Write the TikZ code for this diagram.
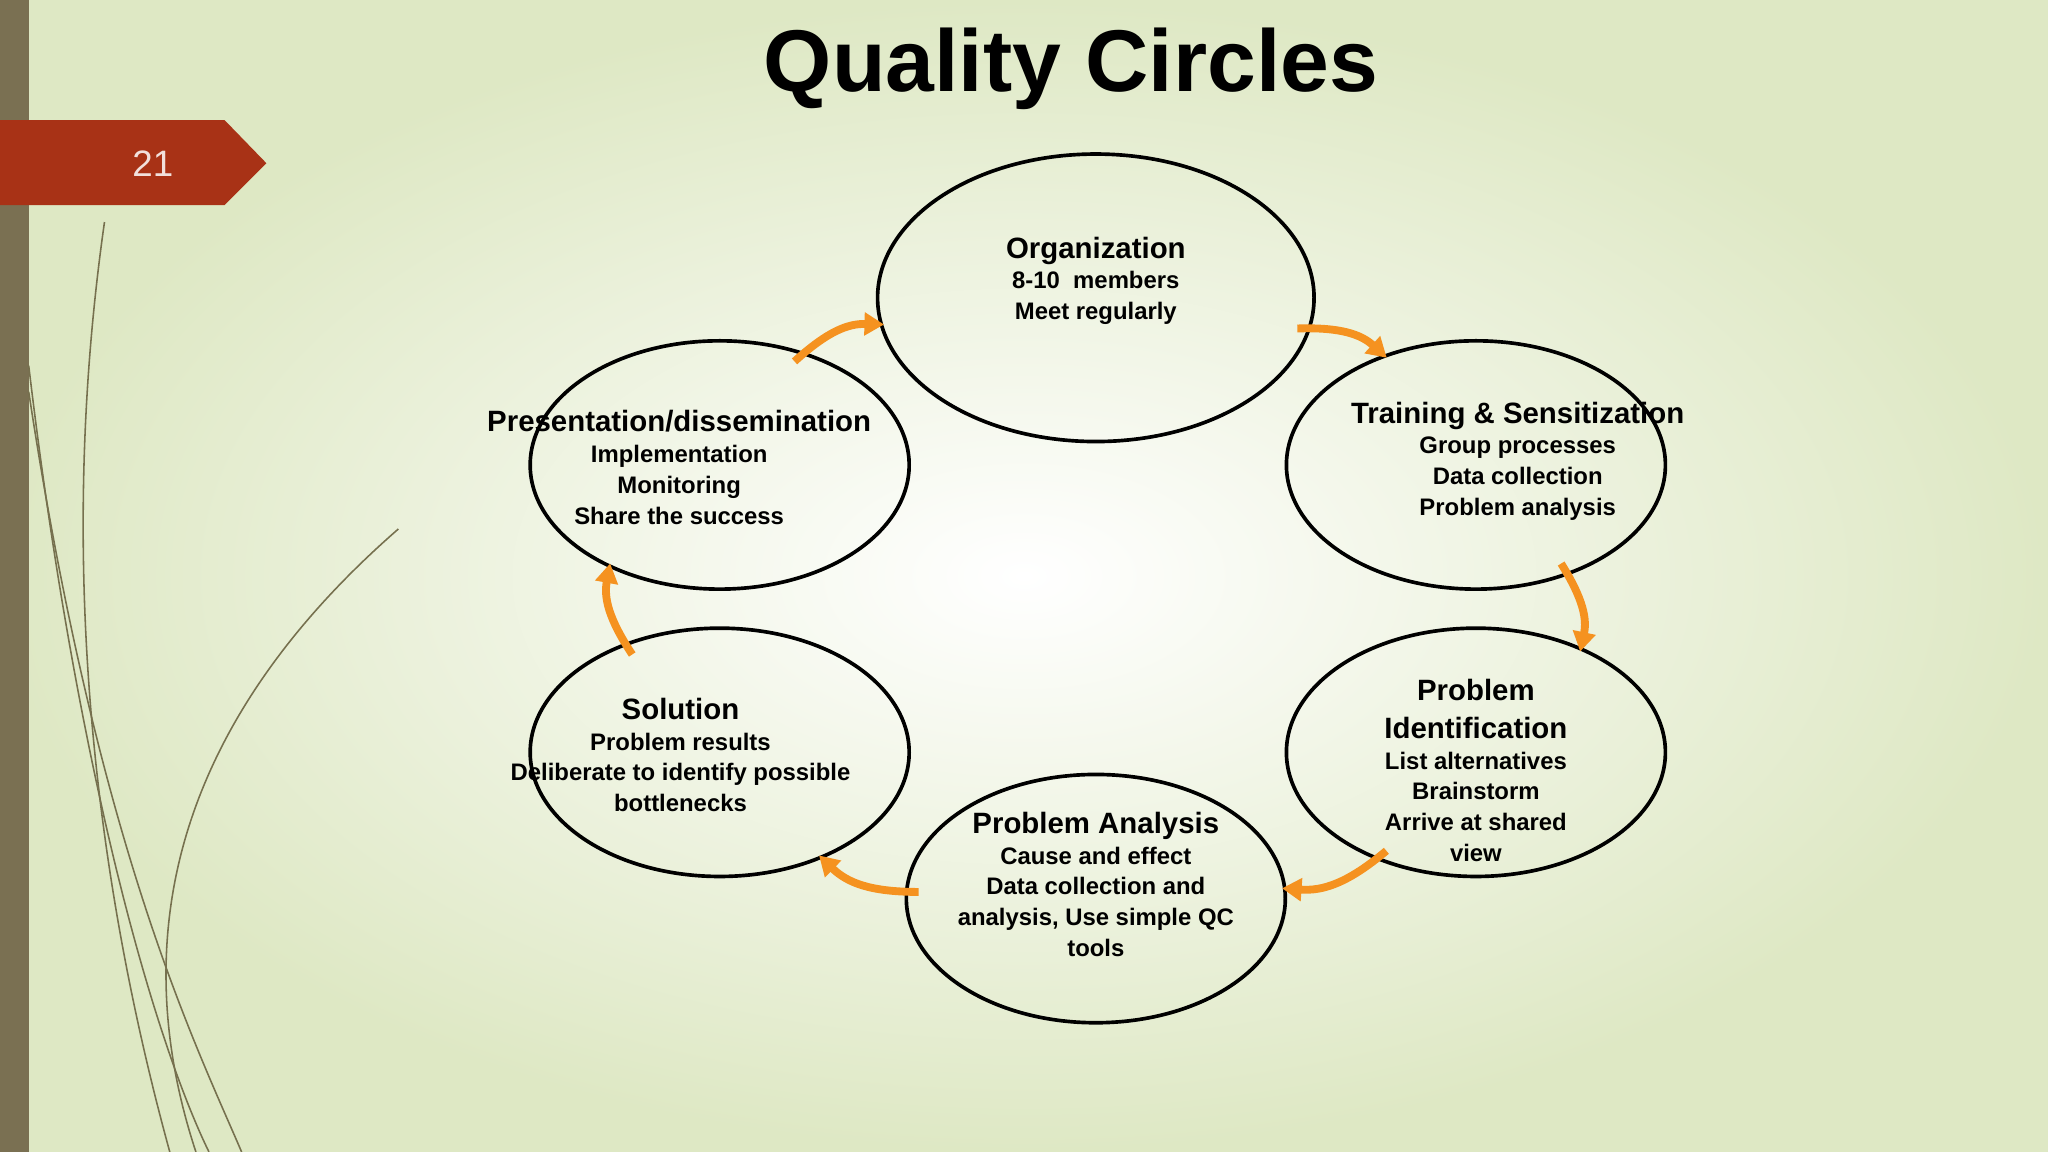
\documentclass[tikz,border=0pt]{standalone}
\usepackage{fontspec}
\setmainfont{Liberation Sans}
\usetikzlibrary{shapes.geometric,arrows.meta,shadings}
\definecolor{bgout}{RGB}{222,232,196}
\definecolor{bar}{RGB}{122,112,82}
\definecolor{tab}{RGB}{168,50,22}
\definecolor{grass}{RGB}{118,112,78}
\definecolor{arr}{RGB}{245,146,32}
\tikzset{
 circ/.style={draw=black, line width=0.028cm, ellipse, minimum width=2.9cm, minimum height=1.9cm, inner sep=0},
 txt/.style={align=center, font=\fontsize{5.2pt}{6.7pt}\selectfont\bfseries, inner sep=0},
 flow/.style={draw=arr, line width=0.06cm, -{Triangle[length=0.15cm,width=0.17cm]}, bend left=22, shorten <=-3pt, shorten >=-1pt},
 grassl/.style={draw=grass, line width=0.012cm}
}
\newcommand{\hd}[1]{{\fontsize{6.4pt}{8pt}\selectfont #1}}
\begin{document}
\begin{tikzpicture}[x=0.01cm,y=-0.01cm]
\useasboundingbox (0,0) rectangle (1568,882);
\shade[inner color=white, outer color=bgout] (0,0) rectangle (1568,882);
\fill[bar] (0,0) rectangle (22,882);
% grass
\draw[grassl] (80,170) .. controls (40,450) and (80,700) .. (130,882);
\draw[grassl] (22,280) .. controls (60,600) and (120,800) .. (160,882);
\draw[grassl] (22,300) .. controls (75,650) and (150,800) .. (185,882);
\draw[grassl] (305,405) .. controls (150,540) and (90,700) .. (150,882);
\fill[tab] (0,92) -- (172,92) -- (204,125) -- (172,157) -- (0,157) -- cycle;
\node[text=white!85!tab, font=\fontsize{8pt}{9pt}\selectfont] (num) at (117,125) {21};
\node[font=\fontsize{19pt}{22pt}\selectfont\bfseries] (title) at (820,53) {\resizebox{4.7cm}{!}{Quality Circles}};
% ellipses
\node[circ, minimum width=3.34cm, minimum height=2.2cm] (org) at (839,228) {};
\node[circ] (tr) at (1130,356) {};
\node[circ] (pi) at (1130,576) {};
\node[circ] (pa) at (839,688) {};
\node[circ] (sol) at (551,576) {};
\node[circ] (pres) at (551,356) {};
% texts
\node[txt] (torg) at (839,215) {\hd{Organization}\\8-10\ \ members\\Meet regularly};
\node[txt] (ttr) at (1162,353) {\hd{Training \& Sensitization}\\Group processes\\Data collection\\Problem analysis};
\node[txt] (tpi) at (1130,590) {\hd{Problem}\\[1.5pt]\hd{Identification}\\List alternatives\\Brainstorm\\Arrive at shared\\view};
\node[txt] (tpa) at (839,677) {\hd{Problem Analysis}\\Cause and effect\\Data collection and\\analysis, Use simple QC\\tools};
\node[txt] (tsol) at (521,578) {\hd{Solution}\\Problem results\\Deliberate to identify possible\\bottlenecks};
\node[txt] (tpres) at (520,358) {\hd{Presentation/dissemination}\\Implementation\\Monitoring\\Share the success};
% arrows
\draw[flow] (org.-8) to (tr.130);
\draw[flow] (tr.-50) to (pi.45);
\draw[flow] (pi.-133) to (pa.3);
\draw[flow] (pa.178) to (sol.-46);
\draw[flow] (sol.131) to (pres.-137);
\draw[flow] (pres.53) to (org.-173);
\end{tikzpicture}
\end{document}
